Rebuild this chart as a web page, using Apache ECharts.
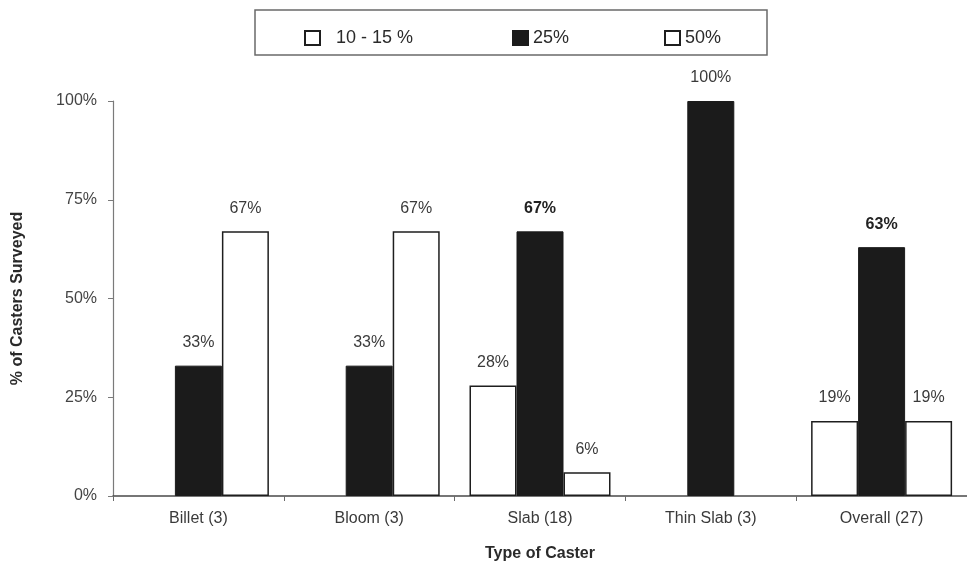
<!DOCTYPE html>
<html>
<head>
<meta charset="utf-8">
<script src="https://cdn.jsdelivr.net/npm/echarts@6/dist/echarts.min.js"></script>
<style>
  html, body { margin: 0; padding: 0; background: #fff; }
  #chart { width: 967px; height: 567px; }
</style>
</head>
<body>
<div id="chart"></div>
<script>
// Caster types surveyed (count of casters in parentheses)
const categories = ['Billet (3)', 'Bloom (3)', 'Slab (18)', 'Thin Slab (3)', 'Overall (27)'];

// Share of casters (%) for each reduction level; null = no bar
const seriesNames = ['10 - 15 %', '25%', '50%'];
const low = [null, null, 28, null, 19];
const mid = [33, 33, 67, 100, 63];
const high = [67, 67, 6, null, 19];

// Y axis ticks
const yTicks = [0, 25, 50, 75, 100];

// Values whose labels are set in bold
const boldLabels = { 2: true, 4: true };

const FONT = '"Liberation Sans", Arial, sans-serif';

const labelBase = {
  show: true,
  position: 'top',
  distance: 15,
  fontFamily: FONT,
  fontSize: 16,
  color: '#3a3a3a',
  formatter: p => p.value + '%'
};

function withLabels(values, boldIdx) {
  return values.map((v, i) => {
    if (v === null) return null;
    if (boldIdx && boldIdx[i]) {
      return { value: v, label: { fontWeight: 'bold', color: '#222' } };
    }
    return v;
  });
}

const whiteStyle = { color: '#ffffff', borderColor: '#1e1e1e', borderWidth: 1.5 };
const darkStyle = { color: '#1b1b1b', borderColor: '#1b1b1b', borderWidth: 1 };

const chart = echarts.init(document.getElementById('chart'), null, { renderer: 'canvas' });

function legendAt(name, left, padLeft) {
  return {
    data: [{ name: name, icon: 'rect' }],
    left: left,
    top: 24,
    itemWidth: 15,
    itemHeight: 14,
    selectedMode: false,
    textStyle: { fontFamily: FONT, fontSize: 18, color: '#2a2a2a', padding: [0, 0, 0, padLeft] }
  };
}

chart.setOption({
  backgroundColor: '#ffffff',
  animation: false,
  graphic: [{
    type: 'rect',
    shape: { x: 255, y: 10, width: 512, height: 45 },
    style: { fill: 'none', stroke: '#6a6a6a', lineWidth: 1.5 },
    z: 0
  }],
  legend: [
    legendAt(seriesNames[0], 299, 11),
    legendAt(seriesNames[1], 507, 0),
    legendAt(seriesNames[2], 659, 0)
  ],
  grid: { left: 113, right: 0, top: 101, bottom: 71, containLabel: false, outerBoundsMode: 'none' },
  xAxis: {
    type: 'category',
    data: categories,
    name: 'Type of Caster',
    nameLocation: 'middle',
    nameGap: 50,
    nameTextStyle: { fontFamily: FONT, fontSize: 16, fontWeight: 'bold', color: '#2a2a2a', letterSpacing: 1 },
    axisLine: { lineStyle: { color: '#4a4a4a', width: 1.5 } },
    axisTick: { show: true, length: 5, lineStyle: { color: '#6a6a6a' } },
    axisLabel: { fontFamily: FONT, fontSize: 16, color: '#3a3a3a', margin: 15 }
  },
  yAxis: {
    type: 'value',
    min: 0,
    max: 100,
    interval: 25,
    name: '% of Casters Surveyed',
    nameLocation: 'middle',
    nameGap: 87,
    nameRotate: 90,
    nameTextStyle: { fontFamily: FONT, fontSize: 16, fontWeight: 'bold', color: '#2a2a2a' },
    axisLine: { show: true, lineStyle: { color: '#7a7a7a', width: 1.2 } },
    axisTick: { show: true, length: 5, lineStyle: { color: '#7a7a7a' } },
    splitLine: { show: false },
    axisLabel: {
      fontFamily: FONT, fontSize: 16, color: '#444', margin: 16,
      formatter: v => (yTicks.indexOf(v) >= 0 ? v + '%' : '')
    }
  },
  series: [
    {
      name: seriesNames[0], type: 'bar', data: withLabels(low),
      barWidth: 47, barGap: '0%', itemStyle: whiteStyle, label: labelBase
    },
    {
      name: seriesNames[1], type: 'bar', data: withLabels(mid, boldLabels),
      barWidth: 47, barGap: '0%', itemStyle: darkStyle, label: labelBase
    },
    {
      name: seriesNames[2], type: 'bar', data: withLabels(high),
      barWidth: 47, barGap: '0%', itemStyle: whiteStyle, label: labelBase
    }
  ]
});
</script>
</body>
</html>
